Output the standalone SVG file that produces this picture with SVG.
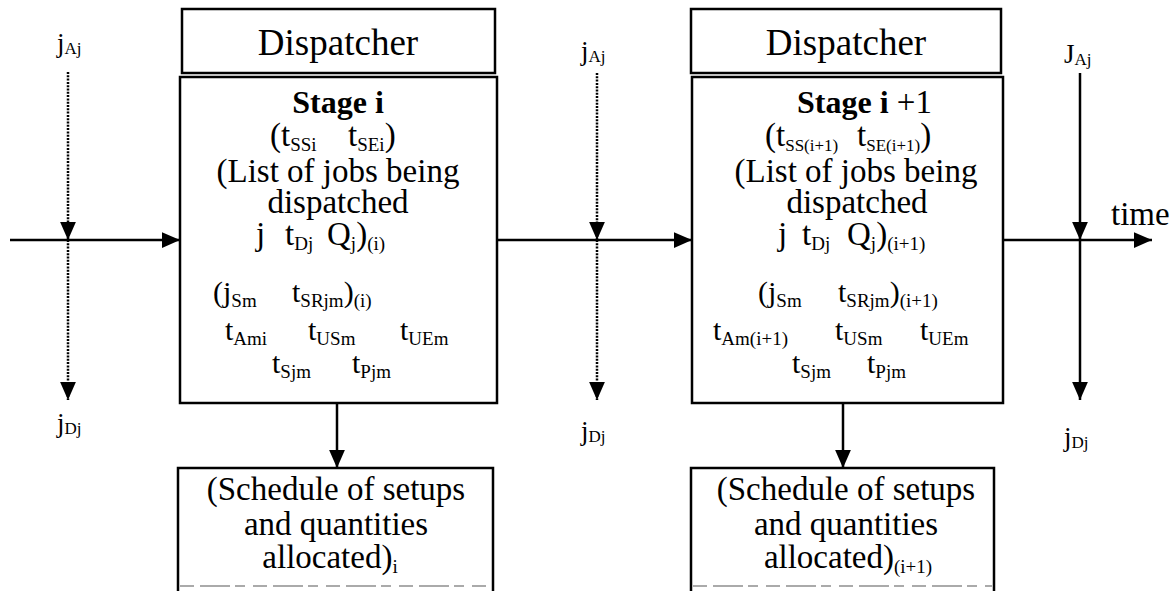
<svg xmlns="http://www.w3.org/2000/svg" width="1172" height="591" viewBox="0 0 1172 591">
<style>
text{font-family:"Liberation Serif","Times New Roman",serif;fill:#000}
.d{font-size:37px}
.h{font-size:32px;font-weight:bold}
.b{font-size:33px}
.m{font-size:30px}
.s{font-size:19px}
.s2{font-size:17px}
.l{font-size:27px}
.ls{font-size:17px}
.box{fill:#fff;stroke:#000;stroke-width:2.5}
.open{fill:none;stroke:#000;stroke-width:2.5}
.cut{stroke:#aaa;stroke-width:2;stroke-dasharray:14 6 30 5 10 8}
.ln{stroke:#000;stroke-width:2.5;fill:none}
.dot{stroke:#000;stroke-width:2.5;fill:none;stroke-dasharray:2 1.3}
</style>
<defs>
<marker id="ah" markerUnits="userSpaceOnUse" markerWidth="18" markerHeight="16" refX="16" refY="7" orient="auto" viewBox="0 0 16 14">
<path d="M0,0 L16,7 L0,14 Z" fill="#000"/>
</marker>
</defs>

<g id="dispatcher-1">
<rect class="box" x="182" y="9" width="313" height="64"/>
<text class="d" x="338" y="55" text-anchor="middle">Dispatcher</text>
</g>
<g id="stage-i">
<rect class="box" x="180" y="77" width="317" height="326"/>
<text class="h" x="338" y="113" text-anchor="middle">Stage i</text>
<text class="b" x="270" y="146">(t<tspan class="s" dy="5">SSi</tspan></text>
<text class="b" x="348" y="146">t<tspan class="s" dy="5">SEi</tspan><tspan dy="-5">)</tspan></text>
<text class="b" x="338" y="182" text-anchor="middle">(List of jobs being</text>
<text class="b" x="338" y="213" text-anchor="middle">dispatched</text>
<text class="b" x="256" y="245">j</text>
<text class="b" x="285" y="245">t<tspan class="s" dy="5">Dj</tspan></text>
<text class="b" x="327" y="245">Q<tspan class="s" dy="5">j</tspan><tspan dy="-5">)</tspan><tspan class="s" dy="5">(i)</tspan></text>
<text class="m" x="213" y="302">(j<tspan class="s" dy="5">Sm</tspan></text>
<text class="m" x="292" y="302">t<tspan class="s" dy="5">SRjm</tspan><tspan dy="-5">)</tspan><tspan class="s" dy="5">(i)</tspan></text>
<text class="m" x="225" y="340">t<tspan class="s" dy="5">Ami</tspan></text>
<text class="m" x="308" y="340">t<tspan class="s" dy="5">USm</tspan></text>
<text class="m" x="400" y="340">t<tspan class="s" dy="5">UEm</tspan></text>
<text class="m" x="272" y="373">t<tspan class="s" dy="5">Sjm</tspan></text>
<text class="m" x="352" y="373">t<tspan class="s" dy="5">Pjm</tspan></text>
</g>
<g id="schedule-i">
<path class="open" d="M178,591 V468 H493 V591"/>
<line class="cut" x1="180" y1="586" x2="491" y2="586"/>
<text class="b" x="336" y="500" text-anchor="middle">(Schedule of setups</text>
<text class="b" x="336" y="535" text-anchor="middle">and quantities</text>
<text class="b" x="330" y="568" text-anchor="middle">allocated)<tspan class="s" dy="5">i</tspan></text>
</g>

<g id="dispatcher-2">
<rect class="box" x="691" y="9" width="310" height="64"/>
<text class="d" x="846" y="55" text-anchor="middle">Dispatcher</text>
</g>
<g id="stage-i1">
<rect class="box" x="692" y="77" width="311" height="326"/>
<text class="h" x="797" y="113">Stage i<tspan class="b" font-weight="normal"> +1</tspan></text>
<text class="b" x="765" y="146">(t<tspan class="s2" dy="5">SS(i+1)</tspan></text>
<text class="b" x="857" y="146">t<tspan class="s2" dy="5">SE(i+1)</tspan><tspan dy="-5">)</tspan></text>
<text class="b" x="856" y="182" text-anchor="middle">(List of jobs being</text>
<text class="b" x="857" y="213" text-anchor="middle">dispatched</text>
<text class="b" x="778" y="245">j</text>
<text class="b" x="802" y="245">t<tspan class="s" dy="5">Dj</tspan></text>
<text class="b" x="847" y="245">Q<tspan class="s" dy="5">j</tspan><tspan dy="-5">)</tspan><tspan class="s" dy="5">(i+1)</tspan></text>
<text class="m" x="758" y="302">(j<tspan class="s" dy="5">Sm</tspan></text>
<text class="m" x="838" y="302">t<tspan class="s" dy="5">SRjm</tspan><tspan dy="-5">)</tspan><tspan class="s" dy="5">(i+1)</tspan></text>
<text class="m" x="713" y="340">t<tspan class="s" dy="5">Am(i+1)</tspan></text>
<text class="m" x="835" y="340">t<tspan class="s" dy="5">USm</tspan></text>
<text class="m" x="920" y="340">t<tspan class="s" dy="5">UEm</tspan></text>
<text class="m" x="792" y="373">t<tspan class="s" dy="5">Sjm</tspan></text>
<text class="m" x="867" y="373">t<tspan class="s" dy="5">Pjm</tspan></text>
</g>
<g id="schedule-i1">
<path class="open" d="M691,591 V468 H994 V591"/>
<line class="cut" x1="693" y1="586" x2="992" y2="586"/>
<text class="b" x="846" y="500" text-anchor="middle">(Schedule of setups</text>
<text class="b" x="846" y="535" text-anchor="middle">and quantities</text>
<text class="b" x="848" y="568" text-anchor="middle">allocated)<tspan class="s" dy="5">(i+1)</tspan></text>
</g>

<g id="labels">
<text class="l" x="57" y="52">j<tspan class="ls" dy="2">Aj</tspan></text>
<text class="l" x="57" y="432">j<tspan class="ls" dy="2">Dj</tspan></text>
<text class="l" x="581" y="60">j<tspan class="ls" dy="2">Aj</tspan></text>
<text class="l" x="581" y="440">j<tspan class="ls" dy="2">Dj</tspan></text>
<text class="l" x="1064" y="63">J<tspan class="ls" dy="2">Aj</tspan></text>
<text class="l" x="1064" y="446">j<tspan class="ls" dy="2">Dj</tspan></text>
<text class="b" x="1111" y="225">time</text>
</g>

<g id="connectors">
<line class="ln" x1="10" y1="240" x2="180" y2="240" marker-end="url(#ah)"/>
<line class="ln" x1="497" y1="240" x2="692" y2="240" marker-end="url(#ah)"/>
<line class="ln" x1="1003" y1="240" x2="1152" y2="240" marker-end="url(#ah)"/>
<line class="dot" x1="68" y1="72" x2="68" y2="240" marker-end="url(#ah)"/>
<line class="dot" x1="68" y1="240" x2="68" y2="400" marker-end="url(#ah)"/>
<line class="dot" x1="597" y1="73" x2="597" y2="240" marker-end="url(#ah)"/>
<line class="dot" x1="597" y1="240" x2="597" y2="400" marker-end="url(#ah)"/>
<line class="ln" x1="1080" y1="73" x2="1080" y2="240" marker-end="url(#ah)"/>
<line class="ln" x1="1080" y1="240" x2="1080" y2="400" marker-end="url(#ah)"/>
<line class="ln" x1="337" y1="403" x2="337" y2="468" marker-end="url(#ah)"/>
<line class="ln" x1="843" y1="403" x2="843" y2="468" marker-end="url(#ah)"/>
</g>
</svg>
